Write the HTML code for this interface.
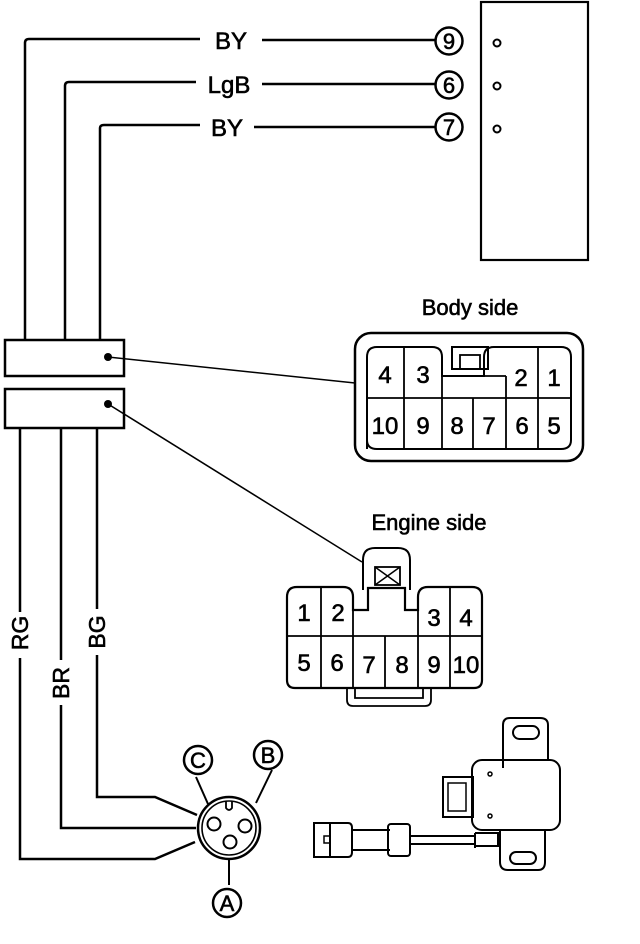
<!DOCTYPE html>
<html><head><style>
html,body{margin:0;padding:0;background:#fff;}
svg{display:block;}
text{font-family:"Liberation Sans",sans-serif;fill:#000;stroke:#000;stroke-width:0.6;}
</style></head><body>
<svg width="640" height="944" viewBox="0 0 640 944" xmlns="http://www.w3.org/2000/svg">
<g fill="none" stroke="#000" stroke-width="2.5">
<path d="M25 340 V43 Q25 39 29 39 H200 M262 40 H436"/>
<path d="M65 340 V86 Q65 82 69 82 H196 M262 84 H436"/>
<path d="M100 340 V128 Q100 125 104 125 H200 M254 127 H436"/>
<circle cx="449" cy="41" r="13.5"/>
<circle cx="449" cy="85" r="13.5"/>
<circle cx="449" cy="127" r="13.5"/>
<rect x="481" y="2" width="107" height="258" stroke-width="2.2"/>
<circle cx="497" cy="43" r="3.5" stroke-width="2"/>
<circle cx="497" cy="86" r="3.5" stroke-width="2"/>
<circle cx="497" cy="129" r="3.5" stroke-width="2"/>
<rect x="5" y="340" width="119" height="36"/>
<rect x="5" y="389" width="119" height="39"/>
<path d="M20 428 V612 M20 658 V859 H155 L195 842"/>
<path d="M61 428 V660 M61 705 V828 H196"/>
<path d="M97 428 V609 M97 655 V797 H155 L197 815"/>
<path d="M108 357 L355 383" stroke-width="1.5"/>
<path d="M108 404 L362 562" stroke-width="1.5"/>
<rect x="355" y="333" width="228" height="128" rx="16"/>
<path d="M367 449 V357 Q367 347 377 347 H432 Q442 347 442 357 V376 H484 V357 Q484 347 494 347 H561 Q571 347 571 357 V440 Q571 449 561 449 H377 Q367 449 367 440 Z" stroke-width="2"/>
<path d="M404 347 V449 M442 376 V449 M473 398 V449 M506 376 V449 M538 347 V449 M367 398 H571 M484 376 H506" stroke-width="1.8"/>
<rect x="452" y="347" width="36" height="22" stroke-width="2"/>
<rect x="460" y="355" width="20" height="14" stroke-width="1.8"/>
<path d="M363 590 V560 Q363 548 375 548 H398 Q410 548 410 560 V590" stroke-width="2"/>
<rect x="375" y="567" width="25" height="18" stroke-width="1.8"/>
<path d="M375 567 L400 585 M400 567 L375 585" stroke-width="1.5"/>
<path d="M287 680 V597 Q287 587 297 587 H343 Q353 587 353 597 V610 H368 V588 H405 V610 H418 V597 Q418 587 428 587 H472 Q482 587 482 597 V680 Q482 688 474 688 H295 Q287 688 287 680 Z" stroke-width="2.2"/>
<path d="M321 587 V688 M353 610 V688 M385 636 V688 M418 610 V688 M450 587 V688 M287 636 H482" stroke-width="1.8"/>
<path d="M347 688 V700 Q347 706 353 706 H425 Q431 706 431 700 V688 M355 688 V698 H423 V688" stroke-width="1.8"/>
<circle cx="229" cy="828" r="31"/>
<circle cx="229" cy="828" r="27" stroke-width="1.6"/>
<circle cx="214" cy="824" r="6.5" stroke-width="2"/>
<circle cx="245" cy="826" r="6.5" stroke-width="2"/>
<circle cx="230" cy="842" r="6.5" stroke-width="2"/>
<path d="M226 801 V808 Q229 812 232 808 V801" stroke-width="1.8"/>
<path d="M196 777 L208 804 M272 770 L256 803 M229 859 V885" stroke-width="2"/>
<circle cx="198" cy="760" r="14"/>
<circle cx="268" cy="755" r="14"/>
<circle cx="227" cy="903" r="14"/>
<g stroke-width="2">
<path d="M503 768 V725 Q503 718 510 718 H540 Q548 718 548 725 V760"/>
<rect x="513" y="726" width="26" height="13" rx="6.5"/>
<rect x="472" y="760" width="88" height="70" rx="10"/>
<path d="M500 830 V862 Q500 870 508 870 H538 Q545 870 545 862 V830"/>
<rect x="510" y="852" width="26" height="12" rx="6"/>
<rect x="443" y="777" width="30" height="40"/>
<rect x="448" y="783" width="18" height="28" stroke-width="1.5"/>
<path d="M314 823 H348 Q352 823 352 828 V852 Q352 857 348 857 H314 Z"/>
<path d="M330 823 V857"/>
<rect x="324" y="836" width="6" height="7" stroke-width="1.5"/>
<path d="M352 830 H390 M352 850 H390"/>
<rect x="388" y="824" width="22" height="32" rx="3"/>
<path d="M410 836 H475 M410 844 H475 M475 833 V848 M475 833 H498 V846 H475"/>
</g>
<circle cx="490" cy="774" r="2" stroke-width="1.5"/>
<circle cx="490" cy="816" r="2" stroke-width="1.5"/>
</g>
<g fill="#000">
<circle cx="108" cy="357" r="4"/>
<circle cx="108" cy="404" r="4"/>
</g>
<g font-size="24">
<text x="231" y="49" text-anchor="middle">BY</text>
<text x="229" y="93" text-anchor="middle">LgB</text>
<text x="227" y="136" text-anchor="middle">BY</text>
<text x="449" y="49" text-anchor="middle" font-size="22">9</text>
<text x="449" y="93" text-anchor="middle" font-size="22">6</text>
<text x="449" y="135" text-anchor="middle" font-size="22">7</text>
<text x="470" y="315" text-anchor="middle" font-size="22">Body side</text>
<text x="429" y="530" text-anchor="middle" font-size="22">Engine side</text>
<text x="385" y="383" text-anchor="middle">4</text>
<text x="423" y="383" text-anchor="middle">3</text>
<text x="521" y="386" text-anchor="middle">2</text>
<text x="554" y="386" text-anchor="middle">1</text>
<text x="385" y="434" text-anchor="middle">10</text>
<text x="423" y="434" text-anchor="middle">9</text>
<text x="457" y="434" text-anchor="middle">8</text>
<text x="489" y="434" text-anchor="middle">7</text>
<text x="522" y="434" text-anchor="middle">6</text>
<text x="554" y="434" text-anchor="middle">5</text>
<text x="304" y="621" text-anchor="middle">1</text>
<text x="338" y="621" text-anchor="middle">2</text>
<text x="434" y="626" text-anchor="middle">3</text>
<text x="466" y="626" text-anchor="middle">4</text>
<text x="304" y="671" text-anchor="middle">5</text>
<text x="337" y="671" text-anchor="middle">6</text>
<text x="369" y="673" text-anchor="middle">7</text>
<text x="402" y="673" text-anchor="middle">8</text>
<text x="434" y="673" text-anchor="middle">9</text>
<text x="466" y="673" text-anchor="middle">10</text>
<text x="198" y="768" text-anchor="middle" font-size="22">C</text>
<text x="268" y="763" text-anchor="middle" font-size="22">B</text>
<text x="227" y="911" text-anchor="middle" font-size="22">A</text>
<text transform="translate(28 633) rotate(-90)" text-anchor="middle" font-size="23">RG</text>
<text transform="translate(69 683) rotate(-90)" text-anchor="middle" font-size="23">BR</text>
<text transform="translate(105 632) rotate(-90)" text-anchor="middle" font-size="23">BG</text>
</g>
</svg>
</body></html>
